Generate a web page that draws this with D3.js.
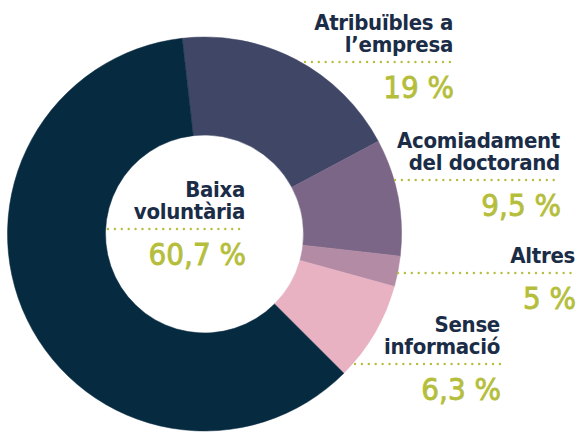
<!DOCTYPE html>
<html>
<head>
<meta charset="utf-8">
<script src="https://cdn.jsdelivr.net/npm/d3@7"></script>
<style>
  html, body { margin: 0; padding: 0; background: #fff; }
  svg { display: block; }
</style>
</head>
<body>
<svg id="chart"></svg>
<script>
// Data
const categories = ['Atribuïbles a l’empresa', 'Acomiadament del doctorand', 'Altres', 'Sense informació', 'Baixa voluntària'];
const labelLines = [['Atribuïbles a', 'l’empresa'], ['Acomiadament', 'del doctorand'], ['Altres'], ['Sense', 'informació'], ['Baixa', 'voluntària']];
const percentLabels = ['19 %', '9,5 %', '5 %', '6,3 %', '60,7 %'];
// slice sizes as drawn (the small slices do not follow the printed labels exactly)
const sliceValues = [19, 9.6, 2.5, 8.2, 60.7];
const colors = ['#404766', '#7b6687', '#b38ba5', '#e8b2c3', '#062a40'];

// Layout
const W = 579, H = 433;
const cx = 204.5, cy = 234;
const outerR = 197, innerR = 99;
const startDeg = -6.5;

const TEXT = '#1b2c47';
const OLIVE = '#b5be3c';
const LABEL_FONT = '"DejaVu Sans Condensed", "DejaVu Sans", sans-serif';

// annotation anchors: right edge, first baseline, dotted line start
const annot = [
  { x: 453, y: 30, lineX0: 305 },
  { x: 560, y: 148, lineX0: 395 },
  { x: 575, y: 263, lineX0: 398 },
  { x: 500, y: 332, lineX0: 355 },
  { x: 245, y: 197, lineX0: 108 }
];

const svg = d3.select('#chart')
  .attr('width', W)
  .attr('height', H)
  .attr('viewBox', `0 0 ${W} ${H}`);

const rad = d => d * Math.PI / 180;

const pie = d3.pie()
  .sort(null)
  .value(d => d)
  .startAngle(rad(startDeg))
  .endAngle(rad(startDeg + 360));

const arc = d3.arc().innerRadius(innerR).outerRadius(outerR);

const g = svg.append('g').attr('transform', `translate(${cx},${cy})`);

g.selectAll('path.slice')
  .data(pie(sliceValues))
  .join('path')
  .attr('class', 'slice')
  .attr('d', arc)
  .attr('fill', (d, i) => colors[i])
  .attr('stroke', (d, i) => colors[i])
  .attr('stroke-width', 0.5);

// --- Labels ---
const lineH = 22;
categories.forEach((c, i) => {
  const a = annot[i];
  const lines = labelLines[i];
  const grp = svg.append('g').attr('class', 'annot');

  // one text element per label, lines as tspans
  const label = grp.append('text')
    .attr('text-anchor', 'end')
    .attr('font-family', LABEL_FONT)
    .attr('font-weight', 'bold')
    .attr('font-size', '22px')
    .attr('letter-spacing', '-0.3px')
    .attr('fill', TEXT);

  lines.forEach((t, k) => {
    label.append('tspan')
      .attr('x', a.x)
      .attr('y', a.y + k * lineH)
      .text(t);
  });

  const lastBase = a.y + (lines.length - 1) * lineH;
  const dotY = lastBase + 10;

  grp.append('line')
    .attr('x1', a.lineX0)
    .attr('x2', a.x)
    .attr('y1', dotY)
    .attr('y2', dotY)
    .attr('stroke', OLIVE)
    .attr('stroke-width', 2.4)
    .attr('stroke-linecap', 'round')
    .attr('stroke-dasharray', '0 6.9');

  grp.append('text')
    .attr('x', a.x + 1)
    .attr('y', dotY + 36)
    .attr('text-anchor', 'end')
    .attr('font-family', LABEL_FONT)
    .attr('font-size', '31px')
    .attr('stroke', OLIVE)
    .attr('stroke-width', 0.8)
    .attr('fill', OLIVE)
    .text(percentLabels[i]);
});
</script>
</body>
</html>
